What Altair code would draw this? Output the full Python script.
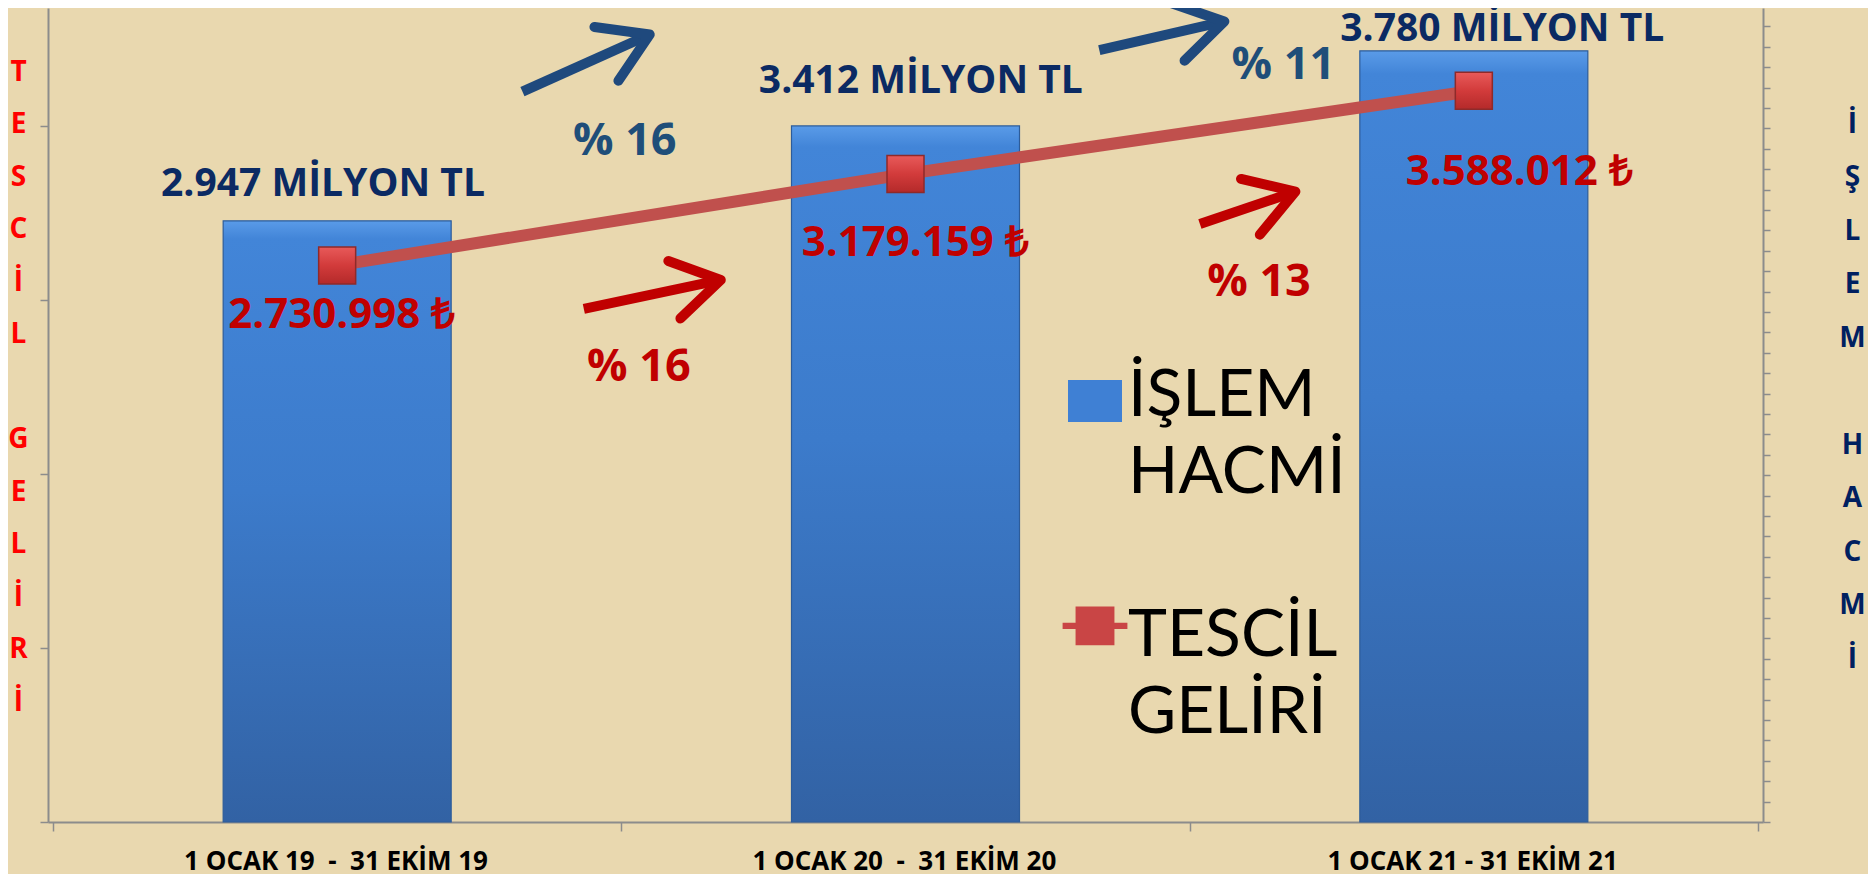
import math
import altair as alt
import pandas as pd

# ---------------- data ----------------
NB = "\u00a0"
categories = [f"1 OCAK 19 {NB}-{NB} 31 EKİM 19", f"1 OCAK 20 {NB}-{NB} 31 EKİM 20", "1 OCAK 21 - 31 EKİM 21"]
islem_hacmi = [2947, 3412, 3780]            # milyon TL (right axis)
tescil_geliri = [2730998, 3179159, 3588012]  # TL (left axis)
bar_labels = ["2.947 MİLYON TL", "3.412 MİLYON TL", "3.780 MİLYON TL"]
line_labels = ["2.730.998 ₺", "3.179.159 ₺", "3.588.012 ₺"]

# label anchors (data units)
bar_label_x = [0.475, 1.527, 2.550]
bar_label_y = [3127, 3632, 3888]
line_label_x = [0.508, 1.517, 2.580]
line_label_y = [2487700, 2841000, 3190000]

# growth arrows (data units: x in category bands, y on right axis)
arrow_kind = ["islem", "islem", "tescil", "tescil"]
arrow_x1 = [0.826, 1.841, 0.934, 2.018]
arrow_y1 = [3580, 3784, 2515, 2931]
arrow_x2 = [1.050, 2.061, 1.175, 2.186]
arrow_y2 = [3860, 3924, 2657, 3090]
pct_labels = ["% 16", "% 11", "% 16", "% 13"]
pct_x = [1.006, 2.165, 1.031, 2.122]
pct_y = [3340, 3710, 2232, 2645]

legend_first = ["İŞLEM", "TESCİL"]
legend_second = ["HACMİ", "GELİRİ"]
left_title_1 = ["T", "E", "S", "C", "İ", "L"]
left_title_2 = ["G", "E", "L", "İ", "R", "İ"]
right_title_1 = ["İ", "Ş", "L", "E", "M"]
right_title_2 = ["H", "A", "C", "M", "İ"]
left_ticks = [0, 854000, 1708000, 2562000, 3416000]
right_ticks = list(range(0, 4000, 100))
x_ticks = [0, 1, 2, 3]

# ---------------- layout ----------------
W, H = 1715, 814
RIGHT_MAX = 3990
LEFT_MAX = 3994000
kx = W / 3.0
ky = H / RIGHT_MAX
LH_L, LH_R = 52.5, 53.5
LEG_X, LEG_Y, LEG_LINE = 1014, 323, 77

BLUE_TXT = "#0B2A63"
RED_TXT = "#C00000"
ARROW_BLUE = "#1F497D"
AXIS_GRAY = "#8C8C8C"
FONT = "Open Sans"

main = pd.DataFrame({
    "cat": categories,
    "pos": [i + 0.5 for i in range(len(categories))],
    "hacim": islem_hacmi,
    "gelir": tescil_geliri,
})
bar_lbl = pd.DataFrame({"x": bar_label_x, "y": bar_label_y, "t": bar_labels})
line_lbl = pd.DataFrame({"x": line_label_x, "y": line_label_y, "t": line_labels})

arrows = pd.DataFrame({
    "kind": arrow_kind, "x1": arrow_x1, "y1": arrow_y1, "x2": arrow_x2, "y2": arrow_y2,
})
arrows["ang"] = [
    (math.degrees(math.atan2(-(b2 - b1) * ky, (a2 - a1) * kx)) + 360) % 360
    for a1, b1, a2, b2 in zip(arrow_x1, arrow_y1, arrow_x2, arrow_y2)
]
pcts = pd.DataFrame({"kind": arrow_kind, "x": pct_x, "y": pct_y, "t": pct_labels})
legend_df1 = pd.DataFrame({"series": legend_first})
legend_df2 = pd.DataFrame({"line2": legend_second})

x_scale = alt.Scale(domain=[0, 3], nice=False, zero=False)
yr_scale = alt.Scale(domain=[0, RIGHT_MAX], nice=False)
yl_scale = alt.Scale(domain=[0, LEFT_MAX], nice=False)

label_expr = " : ".join(
    [f"datum.value == {i + 1} ? '{c}'" for i, c in enumerate(categories)]
) + " : ''"

# the same x axis is given to every layer so that the shared axis stays enabled
x_axis = alt.Axis(
    values=x_ticks, labelExpr=label_expr, labelOffset=-W / 6.0, tickSize=9,
    title=None, labelFont=FONT, labelFontWeight="bold", labelFontSize=26,
    labelColor="black", labelPadding=17, labelOverlap=False, labelLimit=600,
    domainColor=AXIS_GRAY, domainWidth=2, tickColor=AXIS_GRAY, tickWidth=1.5, grid=False,
)


def X(field):
    return alt.X(field, scale=x_scale, axis=x_axis, title=None)


def side_title(lines, orient, tx, ty, lh, color, **extra):
    return alt.Axis(
        orient=orient, title=lines, titleAngle=0, titleX=tx, titleY=ty, titleAlign="center",
        titleBaseline="middle", titleLineHeight=lh, titleFont=FONT, titleFontWeight="bold",
        titleFontSize=28, titleColor=color, grid=False, **extra,
    )


title_only = dict(domain=False, ticks=False, labels=False)

bar_grad = alt.LinearGradient(
    gradient="linear",
    stops=[
        alt.GradientStop(color="#5A9BE8", offset=0),
        alt.GradientStop(color="#4285D8", offset=0.03),
        alt.GradientStop(color="#3C7BCB", offset=0.45),
        alt.GradientStop(color="#3262A4", offset=1),
    ],
    x1=0, x2=0, y1=0, y2=1,
)
marker_grad = alt.LinearGradient(
    gradient="linear",
    stops=[
        alt.GradientStop(color="#E85A5A", offset=0),
        alt.GradientStop(color="#D23B3B", offset=0.5),
        alt.GradientStop(color="#B42A2A", offset=1),
    ],
    x1=0, x2=0, y1=0, y2=1,
)

bars = alt.Chart(main).mark_bar(size=228, fill=bar_grad, stroke="#2D5C9A", strokeWidth=1.2).encode(
    x=X("pos:Q"),
    y=alt.Y("hacim:Q", scale=yr_scale, axis=side_title(
        right_title_1, "right", 89, 116, LH_R, "#002060",
        values=right_ticks, labels=False, tickSize=7,
        domainColor=AXIS_GRAY, domainWidth=2, tickColor=AXIS_GRAY, tickWidth=1.5,
    )),
)

bar_text = alt.Chart(bar_lbl).mark_text(
    font=FONT, fontWeight="bold", fontSize=39, color=BLUE_TXT, baseline="middle", align="center"
).encode(
    x=X("x:Q"),
    y=alt.Y("y:Q", scale=yr_scale, axis=side_title(
        right_title_2, "right", 89, 116 + 6 * LH_R, LH_R, "#002060", **title_only)),
    text="t:N",
)

kind_color = alt.condition(alt.datum.kind == "islem", alt.value(ARROW_BLUE), alt.value(RED_TXT))

shafts = alt.Chart(arrows).mark_rule(strokeWidth=10, strokeCap="butt").encode(
    x=X("x1:Q"),
    x2="x2:Q",
    y=alt.Y("y1:Q", scale=yr_scale, axis=None),
    y2="y2:Q",
    color=kind_color,
)

chevron = "M-1,-0.62L0,0L-1,0.62"
heads = alt.Chart(arrows).mark_point(
    shape=chevron, size=9000, filled=False, strokeWidth=10, strokeCap="round",
    strokeJoin="round", opacity=1,
).encode(
    x=X("x2:Q"),
    y=alt.Y("y2:Q", scale=yr_scale, axis=None),
    angle=alt.Angle("ang:Q", scale=None),
    color=kind_color,
)

pct_text = alt.Chart(pcts).mark_text(
    font=FONT, fontWeight="bold", fontSize=45, baseline="middle", align="center"
).encode(
    x=X("x:Q"),
    y=alt.Y("y:Q", scale=yr_scale, axis=None),
    text="t:N",
    color=alt.condition(alt.datum.kind == "islem", alt.value("#1F4E79"), alt.value(RED_TXT)),
)

legend_common = dict(
    orient="none", legendX=LEG_X, padding=0, title=None,
    labelFont="Lato", labelFontSize=66, labelColor="black", labelLimit=600,
    labelBaseline="top", labelOffset=0, rowPadding=142, symbolSize=2916,
)
blue_sym = "M-1,0.59H1V2.15H-1Z"
red_sym = "M-1.2,0.69H1.2V0.93H-1.2Z M-0.72,0.09H0.72V1.53H-0.72Z"
SERIES_COLORS = ["#3F80D4", "#C94545"]

# legend, first words with the symbols
legend_pts1 = alt.Chart(legend_df1).mark_point(filled=True, size=0, opacity=1).encode(
    x=alt.value(0),
    y=alt.value(0),
    color=alt.Color("series:N", scale=alt.Scale(domain=legend_first, range=SERIES_COLORS),
                    legend=alt.Legend(
                        legendY=LEG_Y, symbolOpacity=1,
                        symbolStrokeWidth=1, symbolStrokeColor="#5A2020", **legend_common)),
    shape=alt.Shape("series:N", scale=alt.Scale(domain=legend_first, range=[blue_sym, red_sym]),
                    title=None),
)
# legend, second words (no visible symbols)
legend_pts2 = alt.Chart(legend_df2).mark_point(filled=True, size=0, opacity=1).encode(
    x=alt.value(0),
    y=alt.value(0),
    color=alt.Color("line2:N", scale=alt.Scale(domain=legend_second, range=SERIES_COLORS),
                    legend=alt.Legend(
                        legendY=LEG_Y + LEG_LINE, symbolType=blue_sym, symbolOpacity=0,
                        symbolStrokeWidth=0, **legend_common)),
)

line = alt.Chart(main).mark_line(color="#C0504D", strokeWidth=12).encode(
    x=X("pos:Q"),
    y=alt.Y("gelir:Q", scale=yl_scale, axis=side_title(
        left_title_1, "left", -30, 64, LH_L, "#FF0000",
        values=left_ticks, labels=False, tickSize=8,
        domainColor=AXIS_GRAY, domainWidth=2, tickColor=AXIS_GRAY, tickWidth=1.5,
    )),
)
points = alt.Chart(main).mark_square(
    size=1369, fill=marker_grad, stroke="#8E2A2A", strokeWidth=1.5, opacity=1
).encode(
    x=X("pos:Q"),
    y=alt.Y("gelir:Q", scale=yl_scale, axis=side_title(
        left_title_2, "left", -30, 64 + 7 * LH_L, LH_L, "#FF0000", **title_only)),
)
line_text = alt.Chart(line_lbl).mark_text(
    font=FONT, fontWeight="bold", fontSize=42, color=RED_TXT, baseline="middle", align="center"
).encode(
    x=X("x:Q"),
    y=alt.Y("y:Q", scale=yl_scale, axis=None),
    text="t:N",
)

chart = alt.layer(
    bars, bar_text, shafts, heads, pct_text, legend_pts1, legend_pts2, line, points, line_text
).resolve_scale(y="independent", color="independent", shape="independent").properties(
    width=W, height=H,
    autosize=alt.AutoSizeParams(type="none"),
    padding={"left": 40, "top": 0, "right": 105, "bottom": 60},
    background="#E9D8AF",
).configure_view(stroke=None)

chart.save("out.html", embed_options={"renderer": "svg", "actions": False})
